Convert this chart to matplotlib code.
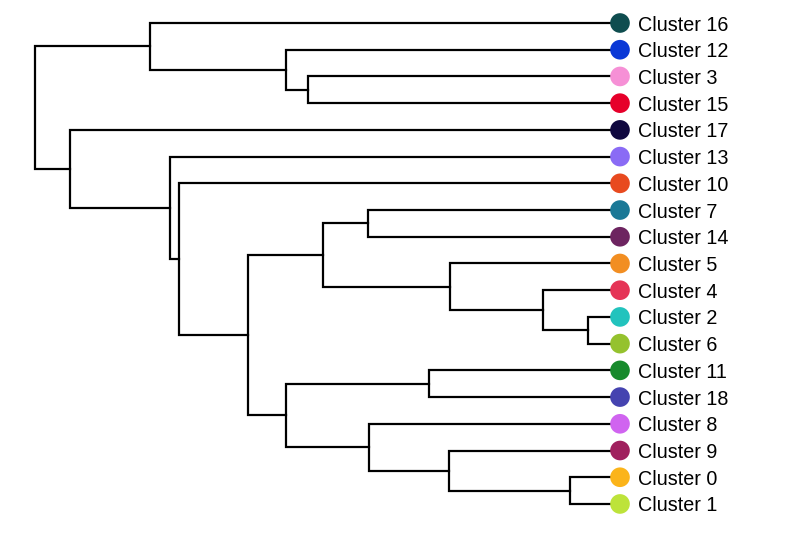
import matplotlib.pyplot as plt

plt.rcParams['font.family'] = ['Liberation Sans', 'DejaVu Sans']

# leaves, top to bottom
leaves = ["Cluster 16", "Cluster 12", "Cluster 3", "Cluster 15", "Cluster 17",
          "Cluster 13", "Cluster 10", "Cluster 7", "Cluster 14", "Cluster 5",
          "Cluster 4", "Cluster 2", "Cluster 6", "Cluster 11", "Cluster 18",
          "Cluster 8", "Cluster 9", "Cluster 0", "Cluster 1"]
colors = ["#0f4d4f", "#0a38d6", "#f690d6", "#e6002a", "#10083f",
          "#8a6bf5", "#e84a1f", "#1a7896", "#6d2460", "#f28e22",
          "#e53456", "#22c3bd", "#95c22e", "#178a2c", "#4543b0",
          "#d064f0", "#a0205e", "#fbb41a", "#bde33a"]

# merges: (left, right, height); strings are leaves, ints are earlier merges
merges = [
    ("Cluster 3", "Cluster 15", 3.12),
    ("Cluster 12", 0, 3.34),
    ("Cluster 16", 1, 4.70),
    ("Cluster 7", "Cluster 14", 2.52),
    ("Cluster 2", "Cluster 6", 0.32),
    ("Cluster 4", 4, 0.77),
    ("Cluster 5", 5, 1.70),
    (3, 6, 2.97),
    ("Cluster 11", "Cluster 18", 1.91),
    ("Cluster 0", "Cluster 1", 0.50),
    ("Cluster 9", 9, 1.71),
    ("Cluster 8", 10, 2.51),
    (8, 11, 3.34),
    (7, 12, 3.72),
    ("Cluster 10", 13, 4.41),
    ("Cluster 13", 14, 4.50),
    ("Cluster 17", 15, 5.50),
    (2, 16, 5.85),
]

fig = plt.figure(figsize=(8, 5.33), dpi=100)
ax = fig.add_axes([0, 0, 1, 1])


def pos(node):
    # returns (height, y) of a node
    if isinstance(node, str):
        return 0.0, leaves.index(node)
    left, right, h = merges[node]
    return h, (pos(left)[1] + pos(right)[1]) / 2


for left, right, h in merges:
    hl, yl = pos(left)
    hr, yr = pos(right)
    ax.plot([hl, h, h, hr], [yl, yl, yr, yr], color="black", lw=1.6,
            solid_joinstyle="miter", zorder=1)

ys = list(range(len(leaves)))
ax.scatter([0] * len(leaves), ys, s=200, c=colors, zorder=3, linewidths=0)
for y, name in zip(ys, leaves):
    ax.text(-0.18, y, name, va="center_baseline", ha="left", fontsize=14.2)

ax.set_xlim(6.2, -1.8)
ax.set_ylim(19.087, -0.861)
ax.axis("off")

fig.savefig("out.png", dpi=100)
